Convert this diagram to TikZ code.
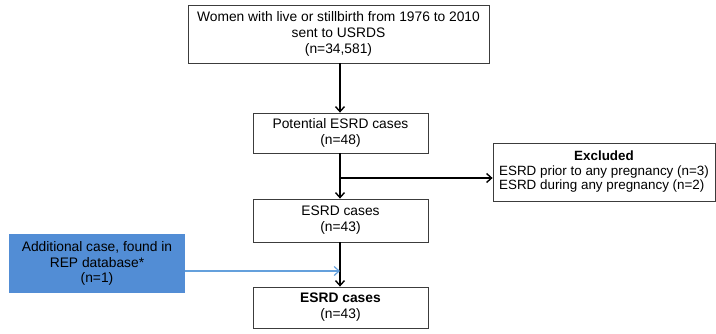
\documentclass[tikz,border=0pt]{standalone}
\usepackage{fontspec}
\setmainfont{Liberation Sans}
\usetikzlibrary{arrows.meta}
\definecolor{boxblue}{RGB}{82,141,213}
\definecolor{linkblue}{RGB}{100,160,220}
\definecolor{frame}{RGB}{60,60,60}
\begin{document}
\begin{tikzpicture}[x=1pt,y=-1pt,
  every node/.style={font=\fontsize{13.8}{15.8}\selectfont, inner sep=0pt},
  flowbox/.style={draw=frame, line width=0.8pt, fill=white, align=center},
  addbox/.style={fill=boxblue, align=center},
  flow/.style={line width=1.4pt, -{Straight Barb[length=5pt,width=9pt,line width=1.4pt]}},
  bluelink/.style={draw=linkblue, line width=1.2pt, -{Straight Barb[length=5pt,width=9pt,line width=1.2pt]}}]
  \useasboundingbox (0,0) rectangle (716,333);

  \node[flowbox, minimum width=301pt, minimum height=58pt] (women) at (338.5,34)
    {Women with live or stillbirth from 1976 to 2010\\sent to USRDS\\(n=34,581)};
  \node[flowbox, minimum width=175pt, minimum height=40pt] (potential) at (340.5,133)
    {Potential ESRD cases\\(n=48)};
  \node[flowbox, minimum width=175pt, minimum height=43pt] (cases) at (340.5,220.5)
    {ESRD cases\\(n=43)};
  \node[flowbox, minimum width=175pt, minimum height=41pt] (final) at (340.5,307.5)
    {\textbf{ESRD cases}\\(n=43)};
  \node[flowbox, minimum width=222pt, minimum height=58pt,
        font=\fontsize{13.4}{15.8}\selectfont] (excluded) at (604,172)
    {\begin{tabular}{@{}l@{}}\multicolumn{1}{@{}c@{}}{\textbf{Excluded}}\\[-1pt]
      ESRD prior to any pregnancy (n=3)\\[-1pt]
      ESRD during any pregnancy (n=2)\end{tabular}};
  \node[addbox, minimum width=176pt, minimum height=59pt] (additional) at (97,263.5)
    {Additional case, found in\\REP database*\\(n=1)};

  \coordinate (split) at (340,178);
  \coordinate (join) at (340,271);

  \draw[flow] (women.south -| split) -- (potential.north -| split);
  \draw[flow] (potential.south -| split) -- (cases.north -| split);
  \draw[flow] (split) -- (excluded.west |- split);
  \draw[flow] (cases.south -| join) -- (final.north -| join);
  \draw[bluelink] (additional.east |- join) -- (join);
\end{tikzpicture}
\end{document}
